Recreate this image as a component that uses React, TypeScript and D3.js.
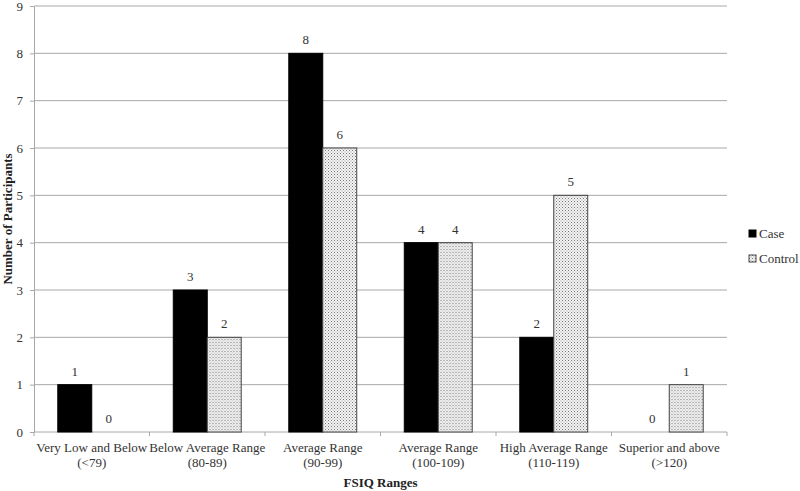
import React, { useEffect, useRef } from 'react';
import * as d3 from 'd3';

const categories = [
  ['Very Low and Below', '(<79)'],
  ['Below Average Range', '(80-89)'],
  ['Average Range', '(90-99)'],
  ['Average Range', '(100-109)'],
  ['High Average Range', '(110-119)'],
  ['Superior and above', '(>120)'],
];
const caseValues = [1, 3, 8, 4, 2, 0];
const controlValues = [0, 2, 6, 4, 5, 1];
const seriesNames = ['Case', 'Control'];
const yTicks = [0, 1, 2, 3, 4, 5, 6, 7, 8, 9];

const App = () => {
  const ref = useRef<SVGSVGElement>(null);

  useEffect(() => {
    const svg = d3.select(ref.current);
    svg.selectAll('*').remove();
    const font = 'Liberation Serif, Times New Roman, serif';
    const left = 34, right = 727, top = 6, bottom = 432;

    const defs = svg.append('defs');
    const pat = defs.append('pattern')
      .attr('id', 'dots')
      .attr('width', 3).attr('height', 3)
      .attr('patternUnits', 'userSpaceOnUse');
    pat.append('rect').attr('width', 3).attr('height', 3).attr('fill', '#f4f4f4');
    pat.append('rect').attr('x', 0).attr('y', 0).attr('width', 1).attr('height', 1).attr('fill', '#777');
    pat.append('rect').attr('x', 1.5).attr('y', 1.5).attr('width', 1).attr('height', 1).attr('fill', '#999');

    const x0 = d3.scaleBand<number>()
      .domain(d3.range(categories.length))
      .range([left, right]);
    const x1 = d3.scaleBand<string>()
      .domain(seriesNames)
      .range([0, x0.bandwidth()])
      .paddingOuter(0.7)
      .paddingInner(0);
    const y = d3.scaleLinear().domain([0, 9]).range([bottom, top]);

    // gridlines
    svg.append('g')
      .selectAll('line')
      .data(yTicks.slice(1))
      .join('line')
      .attr('x1', left).attr('x2', right)
      .attr('y1', d => y(d)).attr('y2', d => y(d))
      .attr('stroke', '#a8a8a8').attr('stroke-width', 1);

    // y axis
    const yAxis = svg.append('g')
      .attr('transform', `translate(${left},0)`)
      .call(d3.axisLeft(y).tickValues(yTicks).tickSize(4).tickSizeOuter(0));
    yAxis.select('.domain').attr('stroke', '#a8a8a8');
    yAxis.selectAll('.tick line').attr('stroke', '#a8a8a8');
    yAxis.selectAll('.tick text')
      .attr('font-family', font).attr('font-size', 13).attr('fill', '#333').attr('x', -11);

    // x axis
    const xAxis = svg.append('g').attr('transform', `translate(0,${bottom})`);
    xAxis.append('line')
      .attr('x1', left).attr('x2', right).attr('y1', 0).attr('y2', 0)
      .attr('stroke', '#a8a8a8');
    xAxis.selectAll('line.tk')
      .data(d3.range(categories.length + 1))
      .join('line')
      .attr('class', 'tk')
      .attr('x1', i => (i < categories.length ? x0(i)! : right))
      .attr('x2', i => (i < categories.length ? x0(i)! : right))
      .attr('y1', 0).attr('y2', 4)
      .attr('stroke', '#a8a8a8');
    const lbl = xAxis.selectAll('text.cat')
      .data(categories)
      .join('text')
      .attr('class', 'cat')
      .attr('font-family', font).attr('font-size', 13).attr('fill', '#333')
      .attr('text-anchor', 'middle');
    lbl.append('tspan')
      .attr('x', (d, i) => x0(i)! + x0.bandwidth() / 2).attr('y', 20)
      .text(d => d[0]);
    lbl.append('tspan')
      .attr('x', (d, i) => x0(i)! + x0.bandwidth() / 2).attr('y', 35)
      .text(d => d[1]);

    // bars
    const data = categories.map((c, i) => ({ i, vals: [caseValues[i], controlValues[i]] }));
    const groups = svg.append('g')
      .selectAll('g')
      .data(data)
      .join('g')
      .attr('transform', d => `translate(${x0(d.i)},0)`);
    groups.selectAll('rect')
      .data(d => d.vals.map((v, k) => ({ key: seriesNames[k], v })))
      .join('rect')
      .attr('x', d => x1(d.key)!)
      .attr('y', d => y(d.v))
      .attr('width', x1.bandwidth())
      .attr('height', d => bottom - y(d.v))
      .attr('fill', d => (d.key === 'Case' ? '#000' : 'url(#dots)'))
      .attr('stroke', d => (d.v > 0 ? (d.key === 'Case' ? '#000' : '#444') : 'none'))
      .attr('stroke-width', 1);
    groups.selectAll('text')
      .data(d => d.vals.map((v, k) => ({ key: seriesNames[k], v })))
      .join('text')
      .attr('x', d => x1(d.key)! + x1.bandwidth() / 2)
      .attr('y', d => y(d.v) - 9)
      .attr('text-anchor', 'middle')
      .attr('font-family', font).attr('font-size', 13).attr('fill', '#333')
      .text(d => d.v);

    // axis titles
    svg.append('text')
      .attr('x', (left + right) / 2).attr('y', 487)
      .attr('text-anchor', 'middle')
      .attr('font-family', font).attr('font-size', 13).attr('font-weight', 'bold').attr('fill', '#222')
      .text('FSIQ Ranges');
    svg.append('text')
      .attr('transform', `translate(12,${(top + bottom) / 2}) rotate(-90)`)
      .attr('text-anchor', 'middle')
      .attr('font-family', font).attr('font-size', 13).attr('font-weight', 'bold').attr('fill', '#222')
      .text('Number of Participants');

    // legend
    const legend = svg.append('g')
      .selectAll('g')
      .data(seriesNames)
      .join('g')
      .attr('transform', (d, i) => `translate(749,${230 + i * 25})`);
    legend.append('rect')
      .attr('width', 7).attr('height', 7)
      .attr('fill', d => (d === 'Case' ? '#000' : 'url(#dots)'))
      .attr('stroke', d => (d === 'Case' ? '#000' : '#444'));
    legend.append('text')
      .attr('x', 10).attr('y', 8)
      .attr('font-family', font).attr('font-size', 13).attr('fill', '#333')
      .text(d => d);
  }, []);

  return (
    <svg ref={ref} width={800} height={491}
      style={{ position: 'absolute', left: 0, top: 0, background: '#fff' }} />
  );
};

export default App;
